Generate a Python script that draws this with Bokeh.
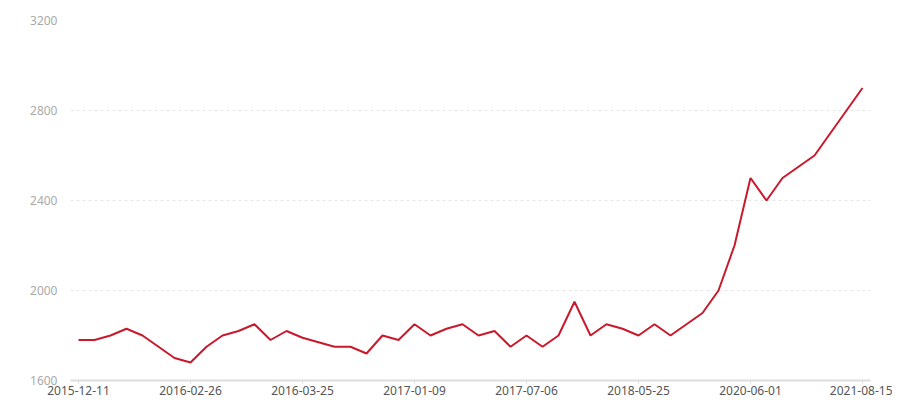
from bokeh.plotting import figure
from bokeh.models import ColumnDataSource, FixedTicker, Range1d
from bokeh.embed import file_html
from bokeh.resources import INLINE

# data (index of each observation and its value)
values = [1780, 1780, 1800, 1830, 1800, 1750, 1700, 1680, 1750, 1800,
          1820, 1850, 1780, 1820, 1790, 1770, 1750, 1750, 1720, 1800,
          1780, 1850, 1800, 1830, 1850, 1800, 1820, 1750, 1800, 1750,
          1800, 1950, 1800, 1850, 1830, 1800, 1850, 1800, 1850, 1900,
          2000, 2200, 2500, 2400, 2500, 2550, 2600, 2700, 2800, 2900]
index = list(range(len(values)))
tick_positions = [0, 7, 14, 21, 28, 35, 42, 49]
tick_labels = ["2015-12-11", "2016-02-26", "2016-03-25", "2017-01-09",
               "2017-07-06", "2018-05-25", "2020-06-01", "2021-08-15"]
y_ticks = [1600, 2000, 2400, 2800, 3200]

source = ColumnDataSource(data=dict(x=index, y=values))

p = figure(width=892, height=400, output_backend="svg", toolbar_location=None,
           x_range=Range1d(-0.5, len(values) - 0.5), y_range=Range1d(1600, 3200),
           min_border_left=70, min_border_top=20, min_border_right=22, min_border_bottom=20)
p.outline_line_color = None
p.background_fill_color = "white"
p.border_fill_color = "white"

p.line("x", "y", source=source, line_color="#c9192c", line_width=2)

FONT = "Noto Sans"

# x axis
p.xaxis.ticker = FixedTicker(ticks=tick_positions)
p.xaxis.major_label_overrides = {pos: lab for pos, lab in zip(tick_positions, tick_labels)}
p.xaxis.axis_line_color = "#dddddd"
p.xaxis.axis_line_width = 2
p.xaxis.major_tick_line_color = "#dddddd"
p.xaxis.major_tick_out = 3
p.xaxis.major_tick_in = 0
p.xaxis.minor_tick_line_color = None
p.xaxis.major_label_standoff = 2
p.xaxis.major_label_text_font = FONT
p.xaxis.major_label_text_font_size = "12px"
p.xaxis.major_label_text_color = "#555555"

# y axis
p.yaxis.ticker = FixedTicker(ticks=y_ticks)
p.yaxis.axis_line_color = None
p.yaxis.major_tick_line_color = None
p.yaxis.minor_tick_line_color = None
p.yaxis.major_label_standoff = 7
p.yaxis.major_label_text_font = FONT
p.yaxis.major_label_text_font_size = "12px"
p.yaxis.major_label_text_color = "#aaaaaa"

# grid
p.xgrid.grid_line_color = None
p.ygrid.grid_line_color = "#e6e6e6"
p.ygrid.grid_line_dash = "3 3"
p.ygrid.grid_line_width = 1

open("out.html", "w").write(file_html(p, INLINE))
